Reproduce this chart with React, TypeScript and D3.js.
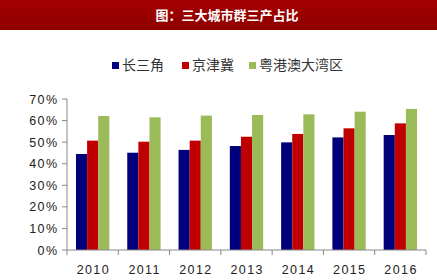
import React from "react";
import * as d3 from "d3";

const years = ["2010", "2011", "2012", "2013", "2014", "2015", "2016"];
const seriesNames = ["长三角", "京津冀", "粤港澳大湾区"];
const yrd = [44.5, 45.1, 46.4, 48.2, 49.9, 52.2, 53.3];
const jjj = [50.7, 50.2, 50.7, 52.5, 53.8, 56.4, 58.7];
const gba = [62.1, 61.5, 62.3, 62.6, 62.9, 64.1, 65.4];
const yTicks = [0, 10, 20, 30, 40, 50, 60, 70];
const colors = ["#00007a", "#c00000", "#9bbb59"];
const title = "图：三大城市群三产占比";

const W = 437, H = 280;
const left = 67, right = 426, top = 99, bottom = 250;

export default function App() {
  const series = [yrd, jjj, gba];
  const x = d3.scaleBand<string>().domain(years).range([left, right]).paddingInner(0.35).paddingOuter(0.175);
  const step = x.step();
  const xs = d3.scaleBand<number>().domain([0, 1, 2]).range([0, x.bandwidth()]);
  const y = d3.scaleLinear().domain([0, 70]).range([bottom, top]);
  const legendX = [112, 182, 249];
  const ls = 1.4;
  return (
    <svg width={W} height={H} style={{ position: "absolute", left: 0, top: 0, background: "#fff" }}>
      <defs>
        <linearGradient id="tb" x1="0" y1="0" x2="0" y2="1">
          <stop offset="0" stopColor="#a30000" />
          <stop offset="1" stopColor="#8e0000" />
        </linearGradient>
      </defs>
      <rect x={0} y={0} width={W} height={30} fill="url(#tb)" />
      <text x={227} y={20} textAnchor="middle" fill="#fff" fontSize={13} fontWeight="bold"
        fontFamily="'Noto Sans CJK SC', sans-serif">{title}</text>
      {seriesNames.map((n, i) => (
        <g key={n}>
          <rect x={legendX[i]} y={62} width={7} height={7} fill={colors[i]} />
          <text x={legendX[i] + 10} y={70} fontSize={14} fill="#333" fontFamily="'Noto Sans CJK SC', sans-serif">{n}</text>
        </g>
      ))}
      {yTicks.map((t) => (
        <g key={t}>
          <line x1={left - 5} x2={left} y1={y(t)} y2={y(t)} stroke="#888" />
          <text x={57 + ls} y={y(t) + 4.5} textAnchor="end" fontSize={12.5} letterSpacing={ls} fill="#222"
            fontFamily="'Liberation Sans', Arial, sans-serif">{t}%</text>
        </g>
      ))}
      <line x1={left} x2={left} y1={top} y2={bottom} stroke="#888" />
      {years.map((yr, i) =>
        series.map((s, k) => (
          <rect key={yr + k} x={(x(yr) as number) + (xs(k) as number)} y={y(s[i])} width={xs.bandwidth()}
            height={bottom - y(s[i])} fill={colors[k]} />
        ))
      )}
      <line x1={left} x2={right} y1={bottom} y2={bottom} stroke="#888" />
      {d3.range(years.length + 1).map((i) => (
        <line key={i} x1={left + i * step} x2={left + i * step} y1={bottom} y2={bottom + 5} stroke="#888" />
      ))}
      {years.map((yr) => (
        <text key={yr} x={(x(yr) as number) + x.bandwidth() / 2 + ls / 2} y={274} textAnchor="middle" fontSize={12.5}
          letterSpacing={ls} fill="#222" fontFamily="'Liberation Sans', Arial, sans-serif">{yr}</text>
      ))}
    </svg>
  );
}
